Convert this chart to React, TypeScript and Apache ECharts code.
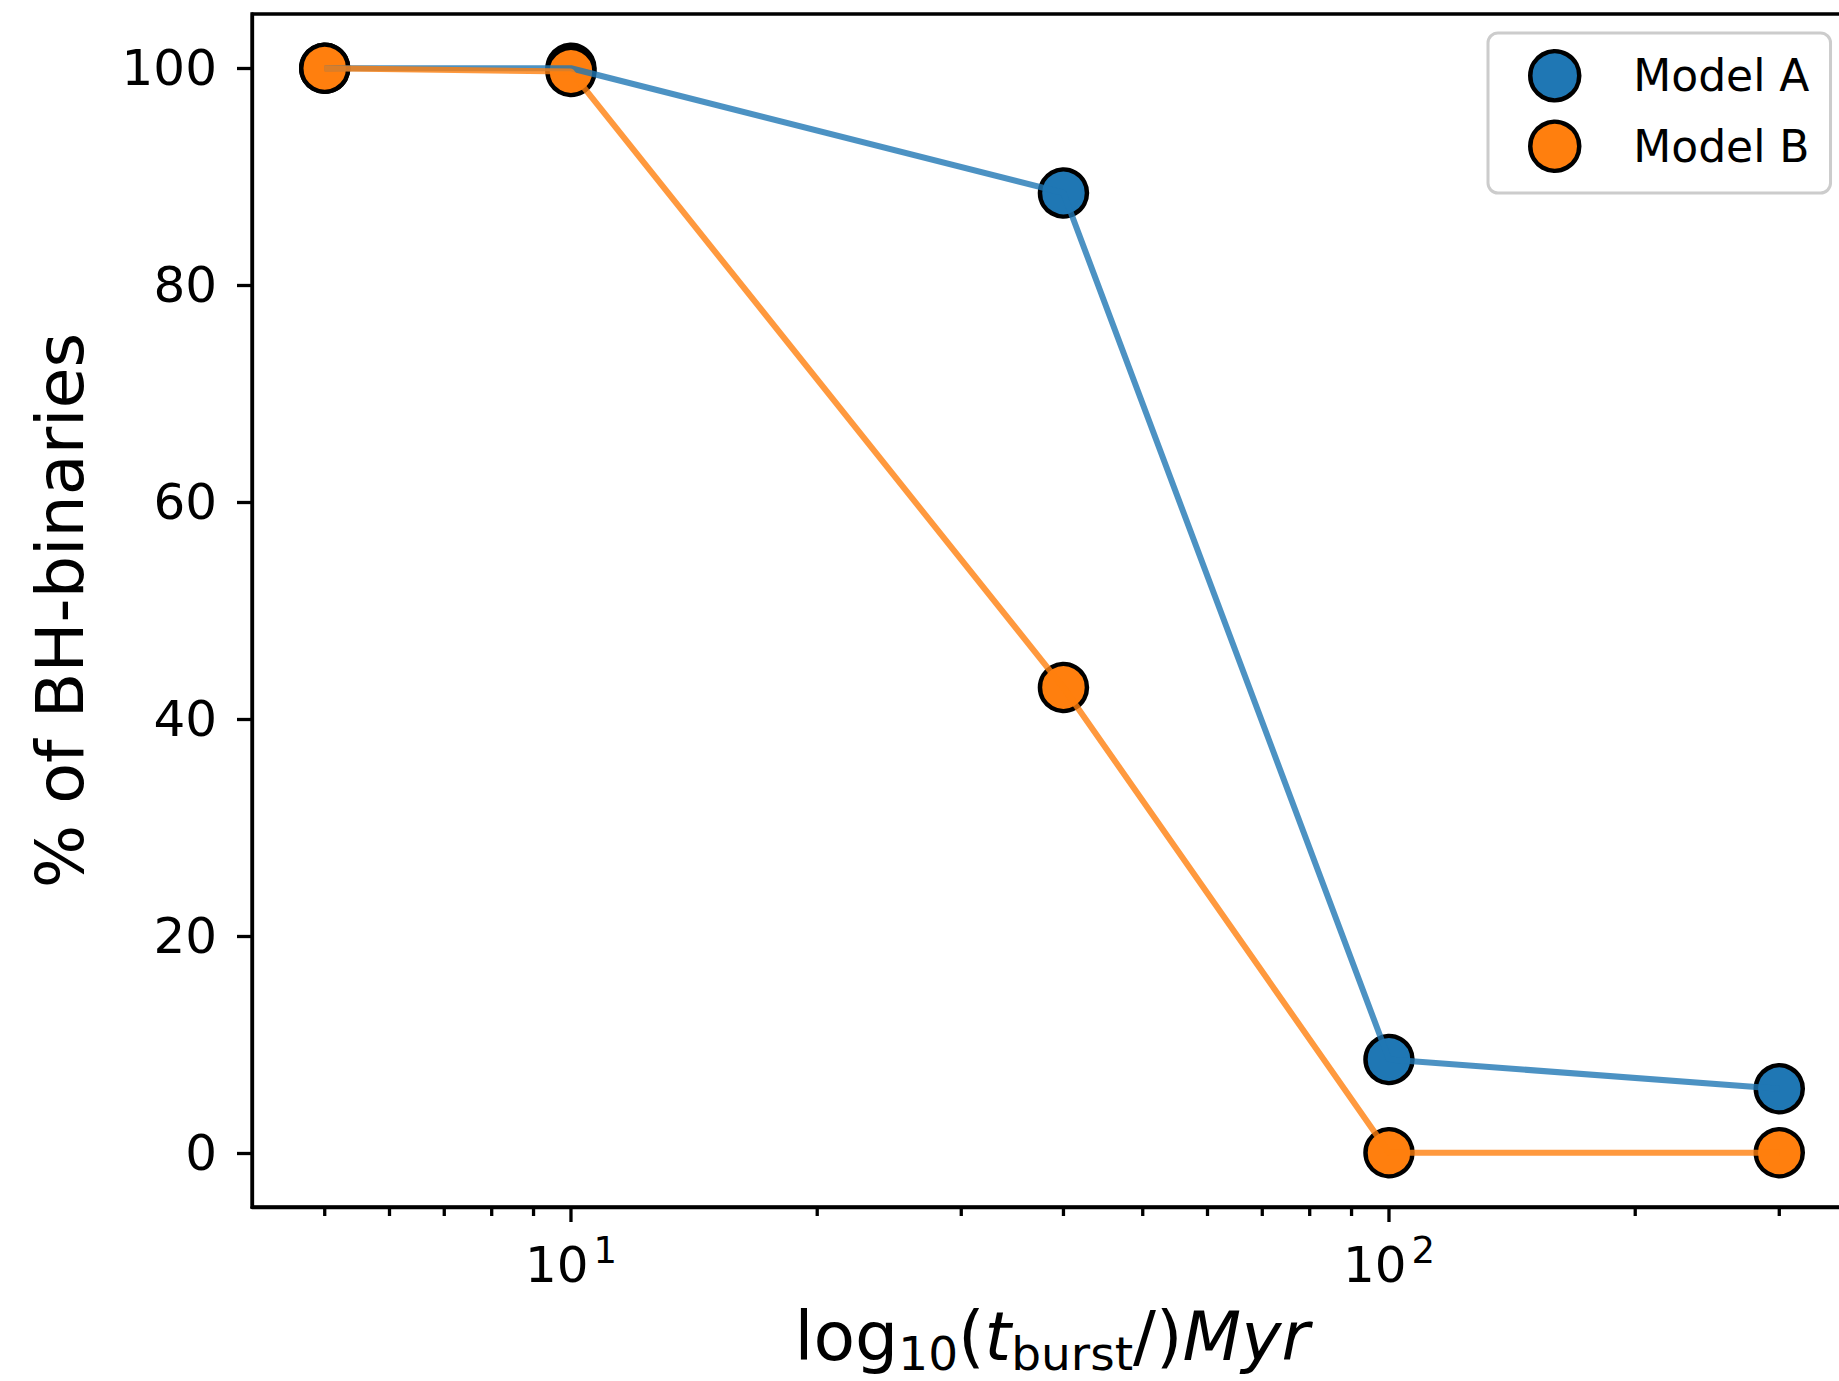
import React, { useEffect, useRef } from 'react';
import * as echarts from 'echarts';

// ---- data ----
const burstTimes = [5, 10, 40, 100, 300];
const modelA = [100, 100, 88.5, 8.6, 5.9];
const modelB = [100, 99.7, 42.9, 0, 0];
const seriesNames = ['Model A', 'Model B'];
const yTicks = [0, 20, 40, 60, 80, 100];
const xMajorTicks = [10, 100];
const xMinorTicks = [5, 6, 7, 8, 9, 20, 30, 40, 50, 60, 70, 80, 90, 200, 300];

const colors = ['#1f77b4', '#ff7f0e'];
const FONT = 'DejaVu Sans';

// matplotlib-like 5% margins
const lmin = Math.log10(Math.min(...burstTimes));
const lmax = Math.log10(Math.max(...burstTimes));
const lspan = lmax - lmin;
const X_MIN = Math.pow(10, lmin - 0.05 * lspan);
const X_MAX = Math.pow(10, lmax + 0.05 * lspan);
const Y_MIN = -5;
const Y_MAX = 105;

const TICK_W = 3.3;

export default function App() {
  const ref = useRef<HTMLDivElement>(null);
  useEffect(() => {
    if (!ref.current) return;
    const chart = echarts.init(ref.current, null, { renderer: 'svg' });
    const pts = (vals: number[]) => burstTimes.map((t, i) => [t, vals[i]]);
    const tickSeries = (values: number[], len: number) => ({
      type: 'custom',
      silent: true,
      clip: false,
      z: 6,
      data: values.map((v) => [v, Y_MIN]),
      renderItem: (_p: any, api: any) => {
        const p = api.coord([api.value(0), api.value(1)]);
        return {
          type: 'line',
          shape: { x1: p[0], y1: p[1], x2: p[0], y2: p[1] + len },
          style: { stroke: '#000', lineWidth: TICK_W },
        };
      },
    });
    chart.setOption({
      animation: false,
      textStyle: { fontFamily: FONT, color: '#000' },
      grid: {
        left: 252,
        top: 14,
        right: -13,
        bottom: 174,
        outerBoundsMode: 'none',
        containLabel: false,
        show: true,
        borderColor: '#000',
        borderWidth: TICK_W,
        backgroundColor: 'transparent',
      },
      legend: {
        data: seriesNames,
        orient: 'vertical',
        left: 1488,
        top: 33,
        padding: [16, 21, 20, 40],
        itemWidth: 49,
        itemHeight: 49,
        itemGap: 17,
        icon: 'circle',
        backgroundColor: '#fff',
        borderColor: '#cccccc',
        borderWidth: 3,
        borderRadius: 10,
        itemStyle: { opacity: 1, borderColor: '#000', borderWidth: 4.5 },
        textStyle: {
          fontFamily: FONT,
          fontSize: 44,
          color: '#000',
          padding: [0, 0, 4, 49],
          lineHeight: 49,
        },
      },
      xAxis: {
        type: 'log',
        logBase: 10,
        min: X_MIN,
        max: X_MAX,
        axisLine: { show: true, onZero: false, lineStyle: { color: '#000', width: TICK_W } },
        axisTick: { show: false },
        minorTick: { show: false },
        splitLine: { show: false },
        axisLabel: {
          margin: 25,
          showMinLabel: false,
          showMaxLabel: false,
          formatter: (v: number) => {
            const l = Math.log10(v);
            const e = Math.round(l);
            if (Math.abs(l - e) > 1e-6) return '';
            return '{n|10}{s|' + e + '}';
          },
          rich: {
            n: { fontFamily: FONT, fontSize: 50, lineHeight: 66, color: '#000' },
            s: {
              fontFamily: FONT,
              fontSize: 37,
              lineHeight: 37,
              verticalAlign: 'top',
              padding: [0, 0, 0, 5],
              color: '#000',
            },
          },
        },
        name: '{n|log}{s|10}{n|(}{i|t}{s|burst}{n|/)}{i|Myr}',
        nameLocation: 'middle',
        nameGap: 88,
        nameTextStyle: {
          rich: {
            n: { fontFamily: FONT, fontSize: 68, lineHeight: 82, color: '#000' },
            i: { fontFamily: FONT, fontSize: 68, lineHeight: 82, fontStyle: 'italic', color: '#000' },
            s: { fontFamily: FONT, fontSize: 47, lineHeight: 47, verticalAlign: 'bottom', color: '#000' },
          },
        },
      },
      yAxis: {
        type: 'value',
        min: Y_MIN,
        max: Y_MAX,
        axisLine: { show: true, onZero: false, lineStyle: { color: '#000', width: TICK_W } },
        axisTick: {
          show: true,
          customValues: yTicks,
          length: 15,
          lineStyle: { color: '#000', width: TICK_W },
        },
        splitLine: { show: false },
        axisLabel: {
          customValues: yTicks,
          fontFamily: FONT,
          fontSize: 50,
          color: '#000',
          margin: 35,
        },
        name: '% of BH-binaries',
        nameLocation: 'middle',
        nameRotate: 90,
        nameGap: 159,
        nameTextStyle: { fontFamily: FONT, fontSize: 66.7, color: '#000' },
      },
      series: [
        {
          type: 'scatter',
          name: seriesNames[0],
          data: pts(modelA),
          symbol: 'circle',
          symbolSize: 47,
          itemStyle: { color: colors[0], borderColor: '#000', borderWidth: 4.5, opacity: 1 },
          z: 2,
        },
        {
          type: 'scatter',
          name: seriesNames[1],
          data: pts(modelB),
          symbol: 'circle',
          symbolSize: 47,
          itemStyle: { color: colors[1], borderColor: '#000', borderWidth: 4.5, opacity: 1 },
          z: 2,
        },
        {
          type: 'line',
          name: seriesNames[0] + ' line',
          data: pts(modelA),
          showSymbol: false,
          symbol: 'none',
          lineStyle: { color: colors[0], width: 6, opacity: 0.8 },
          itemStyle: { color: colors[0] },
          z: 3,
        },
        {
          type: 'line',
          name: seriesNames[1] + ' line',
          data: pts(modelB),
          showSymbol: false,
          symbol: 'none',
          lineStyle: { color: colors[1], width: 6, opacity: 0.8 },
          itemStyle: { color: colors[1] },
          z: 3,
        },
        tickSeries(xMajorTicks, 15),
        tickSeries(xMinorTicks, 9),
      ],
    });
    return () => chart.dispose();
  }, []);
  return (
    <div
      ref={ref}
      style={{ position: 'fixed', left: 0, top: 0, width: 1839, height: 1381, background: '#fff' }}
    />
  );
}
